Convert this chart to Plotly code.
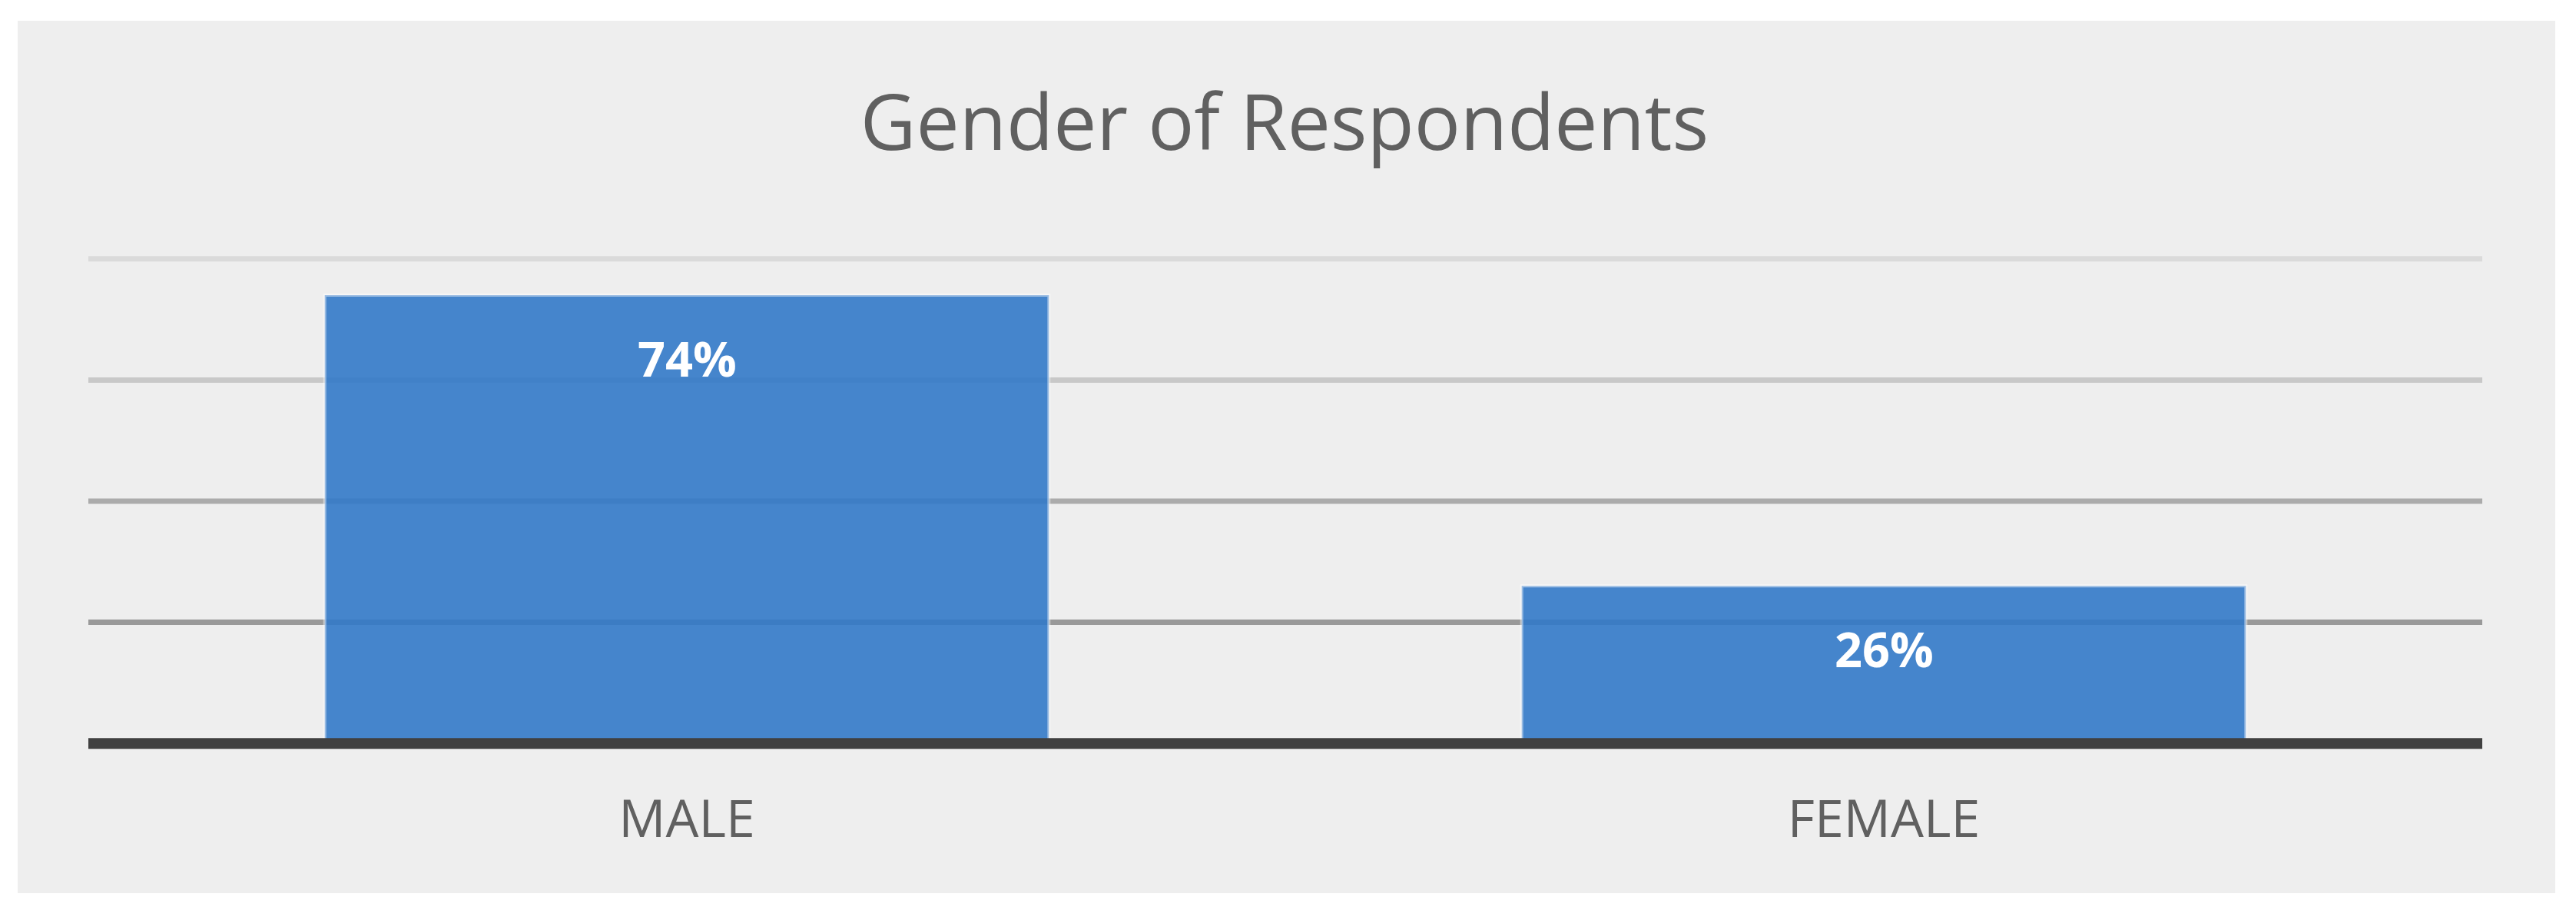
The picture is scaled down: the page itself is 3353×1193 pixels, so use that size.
import plotly.graph_objects as go

categories = ["MALE", "FEMALE"]
shares = [0.74, 0.26]
label_texts = ["74%", "26%"]
grid_values = [0.8, 0.6, 0.4, 0.2]
grid_colors = ["#dadada", "#c8c8c8", "#ababab", "#999999"]
baseline_value = 0

# page has an 8px body margin, so the figure is drawn 8px in from the top-left
FW, FH = 3337, 1177
ML, MR, MT, MB = 107, 114, 313, 202
PW, PH = FW - ML - MR, FH - MT - MB

fig = go.Figure()
fig.add_trace(go.Bar(
    x=categories, y=shares,
    marker=dict(color="rgba(50,121,200,0.9)",
                line=dict(color="rgba(255,255,255,0.45)", width=4)),
    hoverinfo="skip", showlegend=False,
))

for txt, cat, val in zip(label_texts, categories, shares):
    fig.add_annotation(x=cat, y=val, text=txt, showarrow=False,
                       yanchor="middle", yshift=-81,
                       font=dict(family="Open Sans", size=63, color="white", weight="bold"))

# panel background
fig.add_shape(type="rect", xref="paper", yref="paper", layer="below",
              x0=(15 - ML) / PW, x1=(3318 - ML) / PW,
              y0=(MT + PH - 1154) / PH, y1=(MT + PH - 19) / PH,
              fillcolor="#eeeeee", line=dict(width=0))

# gridlines
for gv, gc in zip(grid_values, grid_colors):
    fig.add_shape(type="line", xref="paper", yref="y", layer="below",
                  x0=0, x1=1, y0=gv, y1=gv, line=dict(color=gc, width=7))

# category axis line
fig.add_shape(type="line", xref="paper", yref="y", layer="above",
              x0=0, x1=1, y0=baseline_value, y1=baseline_value,
              line=dict(color="#404040", width=14))

fig.update_layout(
    width=FW, height=FH,
    margin=dict(l=ML, r=MR, t=MT, b=MB),
    paper_bgcolor="white", plot_bgcolor="rgba(0,0,0,0)",
    bargap=0.395,
    title=dict(text="Gender of Respondents", x=1664 / FW, xanchor="center",
               y=1 - 152 / FH, yanchor="middle",
               font=dict(family="Open Sans", size=100, color="#606060")),
    xaxis=dict(showline=False, showgrid=False, ticks="", ticklabelstandoff=37,
               fixedrange=True,
               tickfont=dict(family="Open Sans", size=68, color="#606060")),
    yaxis=dict(range=[-0.02, 0.82], showgrid=False, zeroline=False,
               showticklabels=False, showline=False, fixedrange=True),
)

fig.write_html("out.html")
